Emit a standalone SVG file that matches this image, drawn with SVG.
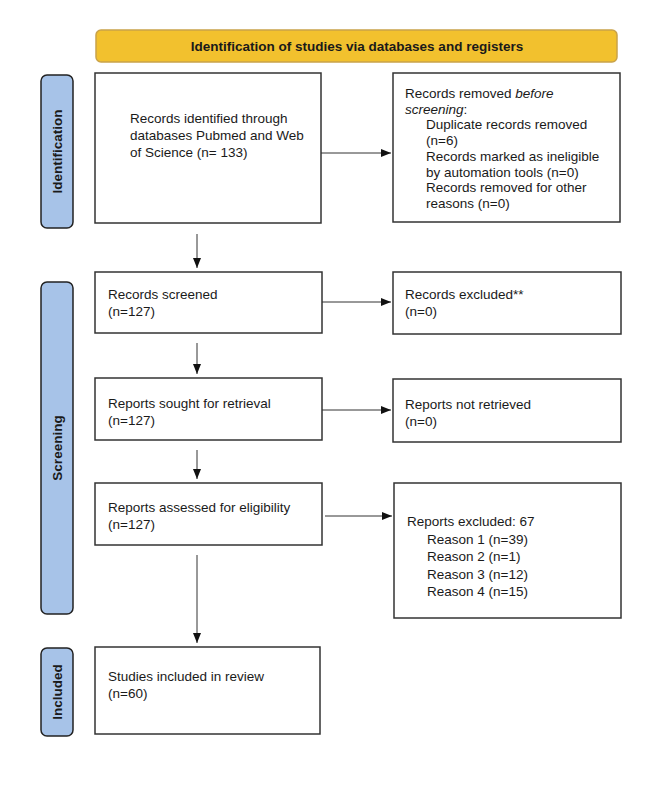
<svg xmlns="http://www.w3.org/2000/svg" width="666" height="799" viewBox="0 0 666 799">
<style>
text{font-family:"Liberation Sans",Arial,sans-serif;font-size:13.5px;fill:#1a1a1a}
.b{font-weight:bold}
.box{fill:#fff;stroke:#333;stroke-width:1.5}
.lab{fill:#a7c3e8;stroke:#222;stroke-width:1.5}
.hdr{fill:#f2c12e;stroke:#c9a24a;stroke-width:1.5}
.con{stroke:#333;stroke-width:1;fill:none;marker-end:url(#ah)}
</style>
<defs>
<marker id="ah" markerWidth="10" markerHeight="8" refX="10" refY="4" orient="auto" markerUnits="userSpaceOnUse">
<path d="M0,0 L10,4 L0,8 Z" fill="#111"/>
</marker>
</defs>
<rect width="666" height="799" fill="#fff"/>
<g id="header">
<rect class="hdr" x="96" y="30" width="521" height="32" rx="5"/>
<text class="b" x="357" y="51" text-anchor="middle">Identification of studies via databases and registers</text>
</g>
<g id="label-identification">
<rect class="lab" x="41" y="75" width="32" height="153" rx="6"/>
<text class="b" transform="translate(62,151.5) rotate(-90)" text-anchor="middle">Identification</text>
</g>
<g id="label-screening">
<rect class="lab" x="41" y="282" width="32" height="332" rx="6"/>
<text class="b" transform="translate(62,448) rotate(-90)" text-anchor="middle">Screening</text>
</g>
<g id="label-included">
<rect class="lab" x="41" y="648" width="32" height="88" rx="6"/>
<text class="b" transform="translate(62,692) rotate(-90)" text-anchor="middle">Included</text>
</g>
<g id="records-identified">
<rect class="box" x="95" y="73" width="226" height="150"/>
<text x="130" y="123">Records identified through</text>
<text x="130" y="140">databases Pubmed and Web</text>
<text x="130" y="157">of Science (n= 133)</text>
</g>
<g id="records-removed">
<rect class="box" x="393" y="73" width="227" height="149"/>
<text x="405" y="98">Records removed <tspan font-style="italic">before</tspan></text>
<text x="405" y="113.7"><tspan font-style="italic">screening</tspan>:</text>
<text x="426" y="129.4">Duplicate records removed</text>
<text x="426" y="145.1">(n=6)</text>
<text x="426" y="160.8">Records marked as ineligible</text>
<text x="426" y="176.5">by automation tools (n=0)</text>
<text x="426" y="192.2">Records removed for other</text>
<text x="426" y="207.9">reasons (n=0)</text>
</g>
<g id="records-screened">
<rect class="box" x="95" y="272" width="227" height="61"/>
<text x="108" y="299">Records screened</text>
<text x="108" y="316">(n=127)</text>
</g>
<g id="records-excluded">
<rect class="box" x="393" y="272" width="228" height="62"/>
<text x="405" y="299">Records excluded**</text>
<text x="405" y="316">(n=0)</text>
</g>
<g id="reports-sought">
<rect class="box" x="95" y="378" width="227" height="62"/>
<text x="108" y="408">Reports sought for retrieval</text>
<text x="108" y="425">(n=127)</text>
</g>
<g id="reports-not-retrieved">
<rect class="box" x="393" y="379" width="228" height="63"/>
<text x="405" y="409">Reports not retrieved</text>
<text x="405" y="426">(n=0)</text>
</g>
<g id="reports-assessed">
<rect class="box" x="95" y="483" width="227" height="62"/>
<text x="108" y="512">Reports assessed for eligibility</text>
<text x="108" y="529">(n=127)</text>
</g>
<g id="reports-excluded">
<rect class="box" x="394" y="483" width="227" height="135"/>
<text x="407" y="526">Reports excluded: 67</text>
<text x="427" y="543.5">Reason 1 (n=39)</text>
<text x="427" y="561">Reason 2 (n=1)</text>
<text x="427" y="578.5">Reason 3 (n=12)</text>
<text x="427" y="596">Reason 4 (n=15)</text>
</g>
<g id="studies-included">
<rect class="box" x="95" y="647" width="225" height="87"/>
<text x="108" y="681">Studies included in review</text>
<text x="108" y="698">(n=60)</text>
</g>
<g id="connectors">
<path class="con" d="M321,153 H391"/>
<path class="con" d="M197,234 V268"/>
<path class="con" d="M322,302 H391"/>
<path class="con" d="M197,343 V374"/>
<path class="con" d="M322,410 H391"/>
<path class="con" d="M197,450 V479"/>
<path class="con" d="M325,516 H392"/>
<path class="con" d="M197,555 V643"/>
</g>
</svg>
